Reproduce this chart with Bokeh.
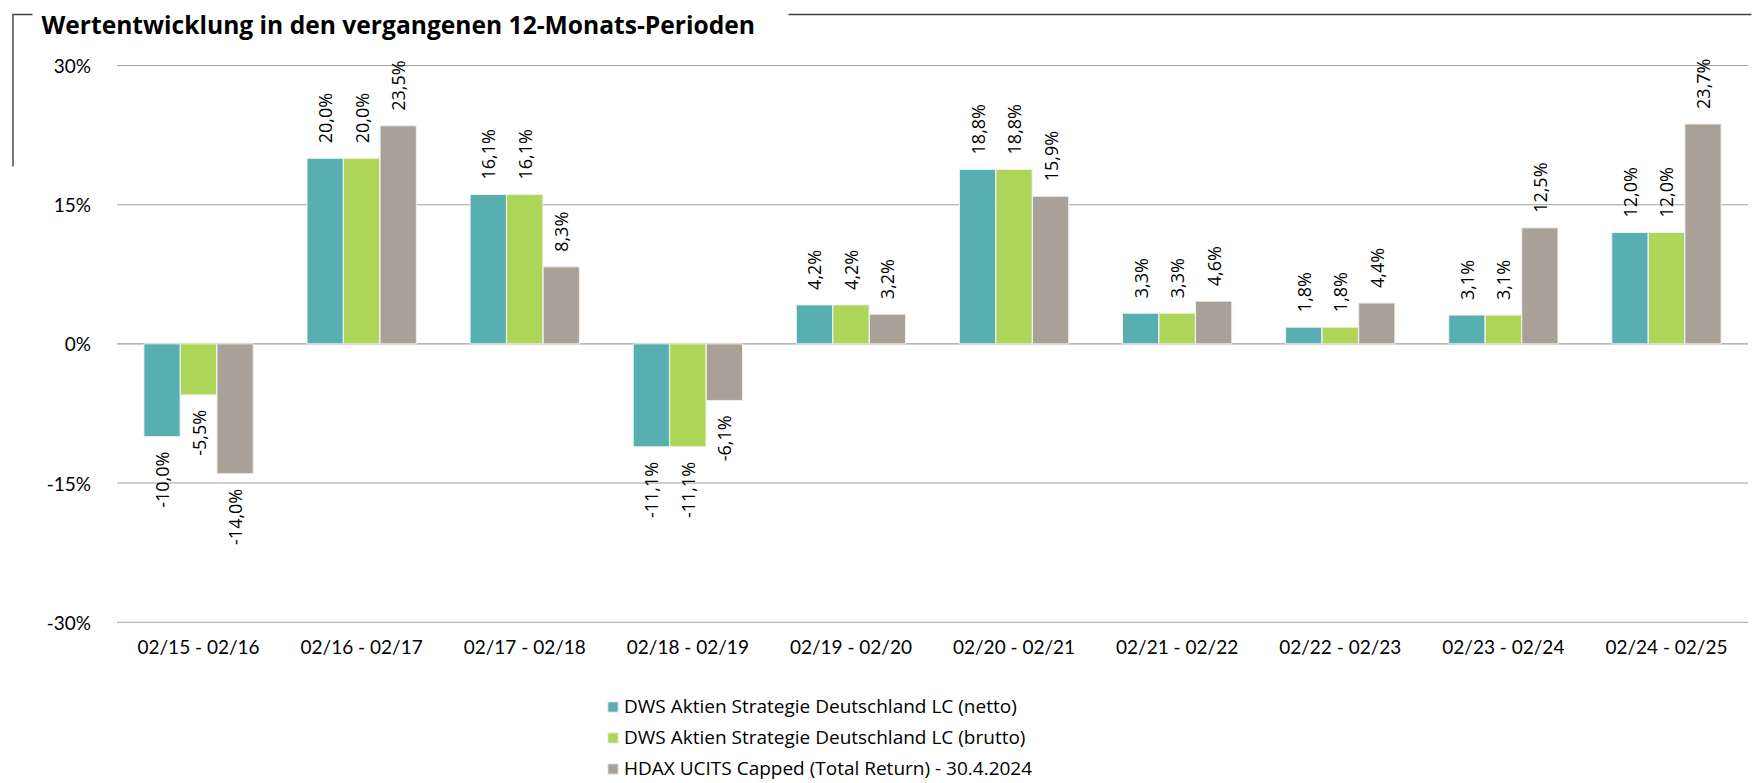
import math
from bokeh.plotting import figure
from bokeh.models import (ColumnDataSource, Range1d, FixedTicker, PrintfTickFormatter,
                          Legend, LegendItem, Label, BoxAnnotation)
from bokeh.core.properties import value
from bokeh.embed import file_html
from bokeh.resources import INLINE

# ---------------- data ----------------
categories = ["02/15 - 02/16", "02/16 - 02/17", "02/17 - 02/18", "02/18 - 02/19",
              "02/19 - 02/20", "02/20 - 02/21", "02/21 - 02/22", "02/22 - 02/23",
              "02/23 - 02/24", "02/24 - 02/25"]
netto = [-10.0, 20.0, 16.1, -11.1, 4.2, 18.8, 3.3, 1.8, 3.1, 12.0]
brutto = [-5.5, 20.0, 16.1, -11.1, 4.2, 18.8, 3.3, 1.8, 3.1, 12.0]
hdax = [-14.0, 23.5, 8.3, -6.1, 3.2, 15.9, 4.6, 4.4, 12.5, 23.7]
series_names = ["DWS Aktien Strategie Deutschland LC (netto)",
                "DWS Aktien Strategie Deutschland LC (brutto)",
                "HDAX UCITS Capped (Total Return) - 30.4.2024"]
y_ticks = [-30, -15, 0, 15, 30]
y_min, y_max = -30, 30
title_text = "Wertentwicklung in den vergangenen 12-Monats-Perioden"

# ---------------- layout / styles ----------------
colors = ["#58AFB2", "#ADD557", "#A9A097"]
offsets = [-0.224, 0.0, 0.224]
bar_w = 0.222
W, H = 1757, 783
FL, FR, FT, FB = 116.5, 1747.5, 65.0, 621.7   # plot-area edges in canvas px
n = len(categories)
ppx = (FR - FL) / n                   # px per category
ppy = (FB - FT) / (y_max - y_min)     # px per percent
x_range = Range1d(-FL / ppx, (W - FL) / ppx)
y_range = Range1d(y_min - (H - FB) / ppy, y_max + FT / ppy)


def fmt(v):
    return f"{v:.1f}".replace(".", ",") + "%"


p = figure(width=W, height=H, x_range=x_range, y_range=y_range,
           output_backend="svg", toolbar_location=None, min_border=0)
p.outline_line_color = None
p.background_fill_color = "white"
p.border_fill_color = "white"
p.grid.visible = False

# gridlines across the plot area only
p.segment(x0=[0] * len(y_ticks), x1=[n] * len(y_ticks), y0=y_ticks, y1=y_ticks,
          line_color="#a0a0a0", line_width=1.1)

centers = [i + 0.5 for i in range(n)]
p.xaxis.fixed_location = y_min
p.xaxis.ticker = FixedTicker(ticks=centers)
p.xaxis.major_label_overrides = {c: lab for c, lab in zip(centers, categories)}
p.yaxis.fixed_location = 0
p.yaxis.ticker = FixedTicker(ticks=y_ticks)
p.yaxis.formatter = PrintfTickFormatter(format="%d%%")
for ax in (p.xaxis, p.yaxis):
    ax.axis_line_color = None
    ax.major_tick_line_color = None
    ax.minor_tick_line_color = None
    ax.major_label_text_font = "Lato"
    ax.major_label_text_font_size = "19px"
    ax.major_label_text_color = "#000000"
p.yaxis.major_label_standoff = 20
p.xaxis.major_label_standoff = 7

renderers = []
for vals, off, col in zip([netto, brutto, hdax], offsets, colors):
    xs = [i + 0.5 + off for i in range(n)]
    src = ColumnDataSource(dict(x=xs, v=vals))
    r = p.vbar(x="x", top="v", bottom=0, width=bar_w, source=src,
               fill_color=col, line_color="#f0f0f0", line_width=1)
    renderers.append(r)
    pos = [(x, v) for x, v in zip(xs, vals) if v >= 0]
    neg = [(x, v) for x, v in zip(xs, vals) if v < 0]
    for items, align, yoff in ((pos, "left", -15), (neg, "right", 15)):
        if not items:
            continue
        ls = ColumnDataSource(dict(x=[a for a, _ in items], y=[b for _, b in items],
                                   t=[fmt(b) for _, b in items]))
        p.text(x="x", y="y", text="t", source=ls,
               angle=math.pi / 2, text_align=align, text_baseline="middle",
               y_offset=yoff, text_font=value("Open Sans"), text_font_size="18px",
               text_color="#000000")

legend = Legend(items=[LegendItem(label=s, renderers=[r]) for s, r in zip(series_names, renderers)],
                location=(606, 2), orientation="vertical",
                label_text_font="Open Sans", label_text_font_size="19px",
                label_text_color="#000000",
                glyph_width=13, glyph_height=13, label_standoff=5, spacing=5,
                label_height=20, padding=0, margin=0,
                border_line_color=None, background_fill_alpha=0)
p.add_layout(legend)

line_col = "#404040"
for (x0, x1, y0, y1) in [(11.8, 13.2, 14, 166), (11.8, 32, 13.3, 14.7), (788, 1751, 13.3, 14.7)]:
    p.add_layout(BoxAnnotation(left=x0, right=x1, top=H - y0, bottom=H - y1,
                               left_units="screen", right_units="screen",
                               top_units="screen", bottom_units="screen",
                               fill_color=line_col, fill_alpha=1, line_color=None))

p.add_layout(Label(x=41, y=H - 24, x_units="screen", y_units="screen", text=title_text,
                   text_font="Open Sans", text_font_style="bold", text_font_size="24.6px",
                   text_color="#000000", text_baseline="alphabetic", text_align="left"))

open("out.html", "w").write(file_html(p, INLINE))
